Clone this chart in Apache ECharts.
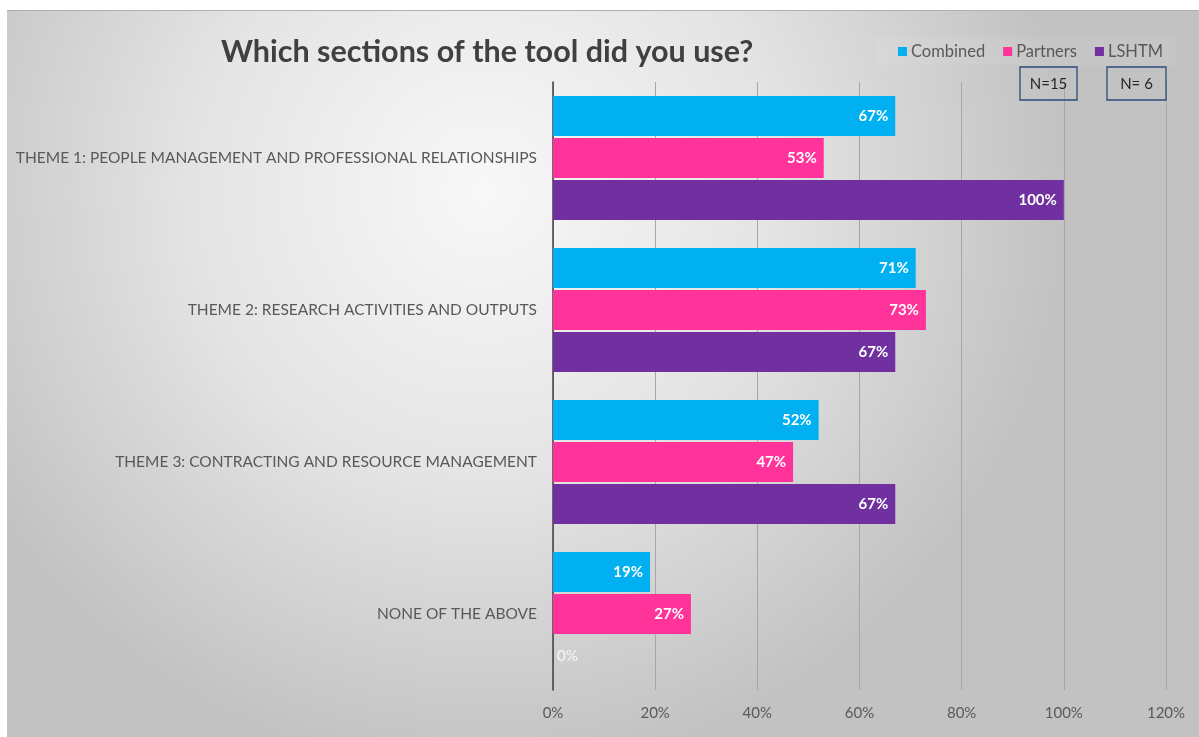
<!DOCTYPE html>
<html><head><meta charset="utf-8">
<script src="https://cdn.jsdelivr.net/npm/echarts@6/dist/echarts.min.js"></script>
<style>html,body{margin:0;padding:0;background:#fff}#c{width:1199px;height:737px}</style>
</head><body><div id="c"></div>
<script>
const categories = [
  "THEME 1: PEOPLE MANAGEMENT AND PROFESSIONAL RELATIONSHIPS",
  "THEME 2: RESEARCH ACTIVITIES AND OUTPUTS",
  "THEME 3: CONTRACTING AND RESOURCE MANAGEMENT",
  "NONE OF THE ABOVE"
];
const combined = [67, 71, 52, 19];
const partners = [53, 73, 47, 27];
const lshtm = [100, 67, 67, 0];
const seriesNames = ["Combined", "Partners", "LSHTM"];
const colors = ["#00B0F0", "#FF3399", "#7030A0"];
const nLabels = ["N=15", "N= 6"];

const font = "Lato, 'Open Sans', sans-serif";
const chart = echarts.init(document.getElementById('c'));

function mk(name, data, color) {
  return {
    name, type: 'bar', barWidth: 40, barGap: '5%',
    itemStyle: { color },
    label: {
      show: true, position: 'insideRight', distance: 7,
      color: '#fff', fontWeight: 'bold', fontSize: 15, fontFamily: font,
      formatter: p => p.value + '%'
    },
    data: data.map(v => v === 0 ? {
      value: v,
      label: { position: 'right', distance: 4, fontWeight: 'normal', color: 'rgba(255,255,255,0.85)' }
    } : v)
  };
}

chart.setOption({
  animation: false,
  graphic: [
    { type: 'rect', z: -10, shape: { x: 7, y: 10, width: 1192, height: 727 },
      style: { fill: { type: 'radial', x: 0.4, y: 0.25, r: 0.8, colorStops: [
        { offset: 0, color: '#f8f8f8' }, { offset: 0.5, color: '#e4e4e4' }, { offset: 1, color: '#c2c2c2' } ] } } },
    { type: 'rect', z: -9, shape: { x: 7, y: 10, width: 1192, height: 1 }, style: { fill: '#b0b0b0' } },
    { type: 'rect', z: -8, shape: { x: 876, y: 37, width: 300, height: 28 }, style: { fill: 'rgba(255,255,255,0.08)' } },
    { type: 'rect', z: 10, shape: { x: 1020, y: 67, width: 57, height: 33 }, style: { fill: 'transparent', stroke: '#2F4B7C', lineWidth: 1.3 } },
    { type: 'text', z: 11, x: 1048.5, y: 84, style: { text: nLabels[0], align: 'center', verticalAlign: 'middle', font: '15px ' + font, fill: '#262626' } },
    { type: 'rect', z: 10, shape: { x: 1107, y: 67, width: 59, height: 33 }, style: { fill: 'transparent', stroke: '#2F4B7C', lineWidth: 1.3 } },
    { type: 'text', z: 11, x: 1136.5, y: 84, style: { text: nLabels[1], align: 'center', verticalAlign: 'middle', font: '15px ' + font, fill: '#262626' } }
  ],
  title: {
    text: 'Which sections of the tool did you use?',
    left: 216, top: 32,
    textStyle: { fontFamily: font, fontSize: 30.5, fontWeight: 'bold', color: '#404040' }
  },
  legend: {
    left: 893, top: 38, itemWidth: 9, itemHeight: 9, itemGap: 18, icon: 'rect',
    textStyle: { fontFamily: font, fontSize: 16.5, color: '#595959', padding: [0, 0, 0, -1] },
    data: seriesNames
  },
  grid: { left: 553, right: 33, top: 82, bottom: 47 },
  xAxis: {
    type: 'value', min: 0, max: 120, interval: 20,
    axisLabel: { formatter: '{value}%', color: '#595959', fontFamily: font, fontSize: 15, margin: 16 },
    splitLine: { show: true, lineStyle: { color: '#a6a6a6', width: 1 } },
    axisLine: { show: false }, axisTick: { show: false }
  },
  yAxis: {
    type: 'category', inverse: true, data: categories,
    axisLine: { show: true, lineStyle: { color: '#404040', width: 1.5 } },
    axisTick: { show: false },
    axisLabel: { color: '#595959', fontFamily: font, fontSize: 15.5, margin: 16 }
  },
  series: [mk(seriesNames[0], combined, colors[0]), mk(seriesNames[1], partners, colors[1]), mk(seriesNames[2], lshtm, colors[2])]
});
</script></body></html>
